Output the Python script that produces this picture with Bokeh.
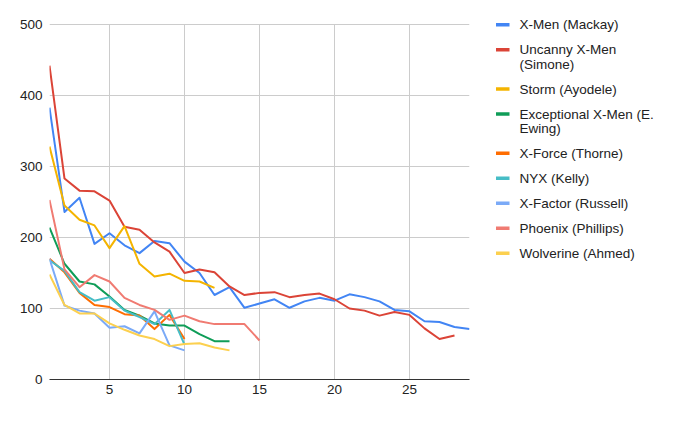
from bokeh.plotting import figure
from bokeh.layouts import row
from bokeh.models import Range1d, FixedTicker
from bokeh.core.properties import value
from bokeh.embed import file_html
from bokeh.resources import INLINE

# ---- data ----
mackay = [383, 236, 256, 191, 206, 189, 178, 195, 192, 166, 150, 119, 130, 101, 107,
          113, 101, 110, 115, 111, 120, 116, 110, 98, 96, 82, 81, 74, 71]
simone = [442, 283, 266, 265, 252, 215, 211, 193, 180, 150, 155, 151, 131, 119, 122,
          123, 116, 119, 121, 113, 100, 97, 90, 95, 91, 72, 57, 62]
ayodele = [328, 245, 225, 217, 185, 216, 163, 145, 149, 139, 138, 129]
ewing = [214, 163, 138, 134, 117, 98, 90, 79, 76, 76, 64, 54, 54]
thorne = [170, 151, 122, 105, 102, 92, 90, 71, 91, 57]
kelly = [168, 153, 123, 111, 116, 97, 88, 78, 98, 49]
russell = [170, 104, 97, 93, 73, 75, 65, 96, 48, 41]
phillips = [253, 155, 130, 147, 138, 115, 105, 98, 84, 90, 82, 78, 78, 78, 55]
ahmed = [148, 105, 93, 93, 79, 70, 62, 57, 47, 50, 51, 45, 41]

series_names = ["X-Men (Mackay)", "Uncanny X-Men\n(Simone)", "Storm (Ayodele)",
                "Exceptional X-Men (E.\nEwing)", "X-Force (Thorne)", "NYX (Kelly)",
                "X-Factor (Russell)", "Phoenix (Phillips)", "Wolverine (Ahmed)"]
series_values = [mackay, simone, ayodele, ewing, thorne, kelly, russell, phillips, ahmed]
colors = ["#4285F4", "#DB4437", "#F4B400", "#0F9D58", "#FF6D01", "#46BDC6",
          "#7BAAF7", "#F07B72", "#FCD04F"]

x_ticks = [5, 10, 15, 20, 25]
y_ticks = [0, 100, 200, 300, 400, 500]

FONT = "Liberation Sans"
FS = "13.5px"
TXT = "#222222"
GRID = "#cccccc"

# frame spans page y 8..379; the value 500 must sit at y=24
TOP, BOTTOM = 8, 26
FRAME_TOP_Y, ZERO_Y, MAX_Y = 8, 379, 24
y_max = y_ticks[-1]
y_end = y_max + (MAX_Y - FRAME_TOP_Y) * y_max / (ZERO_Y - MAX_Y)

p = figure(width=473, height=405, output_backend="svg", toolbar_location=None,
           x_range=Range1d(1, 29), y_range=Range1d(0, y_end),
           min_border_left=49, min_border_right=4, min_border_top=TOP, min_border_bottom=BOTTOM)
p.outline_line_color = None
p.background_fill_color = "white"

# vertical grid lines only up to the top value
p.xgrid.visible = False
p.segment(x0=x_ticks, y0=[y_ticks[0]] * len(x_ticks), x1=x_ticks, y1=[y_max] * len(x_ticks),
          line_color=GRID, line_width=1)

for vals, c in zip(series_values, colors):
    xs = list(range(1, len(vals) + 1))
    p.line(xs, vals, line_color=c, line_width=2, line_join="round")

p.xaxis.ticker = FixedTicker(ticks=x_ticks)
p.yaxis.ticker = FixedTicker(ticks=y_ticks)
p.ygrid.ticker = FixedTicker(ticks=y_ticks)
p.ygrid.grid_line_color = GRID
p.ygrid.grid_line_width = 1

for ax in (p.xaxis[0], p.yaxis[0]):
    ax.major_tick_line_color = None
    ax.minor_tick_line_color = None
    ax.major_tick_in = 0
    ax.major_tick_out = 0
    ax.major_label_text_font = FONT
    ax.major_label_text_font_size = FS
    ax.major_label_text_color = TXT
p.xaxis.axis_line_color = "#333333"
p.xaxis.axis_line_width = 1
p.yaxis.axis_line_color = None
p.xaxis.major_label_standoff = 5
p.yaxis.major_label_standoff = 7

# ---- legend panel (frame aligned with the main plot's frame: y 8..379) ----
lg = figure(width=195, height=405, output_backend="svg", toolbar_location=None,
            x_range=Range1d(473, 668), y_range=Range1d(ZERO_Y, FRAME_TOP_Y),
            x_axis_location=None, y_axis_location=None,
            min_border_left=0, min_border_right=0, min_border_top=TOP, min_border_bottom=BOTTOM)
lg.outline_line_color = None
lg.xgrid.visible = False
lg.ygrid.visible = False

y = 24.3
sw_x0, sw_x1, tx = 495.5, 509, 519
line_h = 14.2
for name, c in zip(series_names, colors):
    lines = name.split("\n")
    lg.segment(x0=[sw_x0], y0=[y], x1=[sw_x1], y1=[y], line_color=c, line_width=3.5)
    lg.text(x=[tx] * len(lines), y=[y + j * line_h for j in range(len(lines))], text=lines,
            text_font=value(FONT), text_font_size=FS, text_color=TXT,
            text_baseline="middle", text_align="left")
    y += 25 + (len(lines) - 1) * line_h

layout = row(p, lg)
open("out.html", "w").write(file_html(layout, INLINE))
